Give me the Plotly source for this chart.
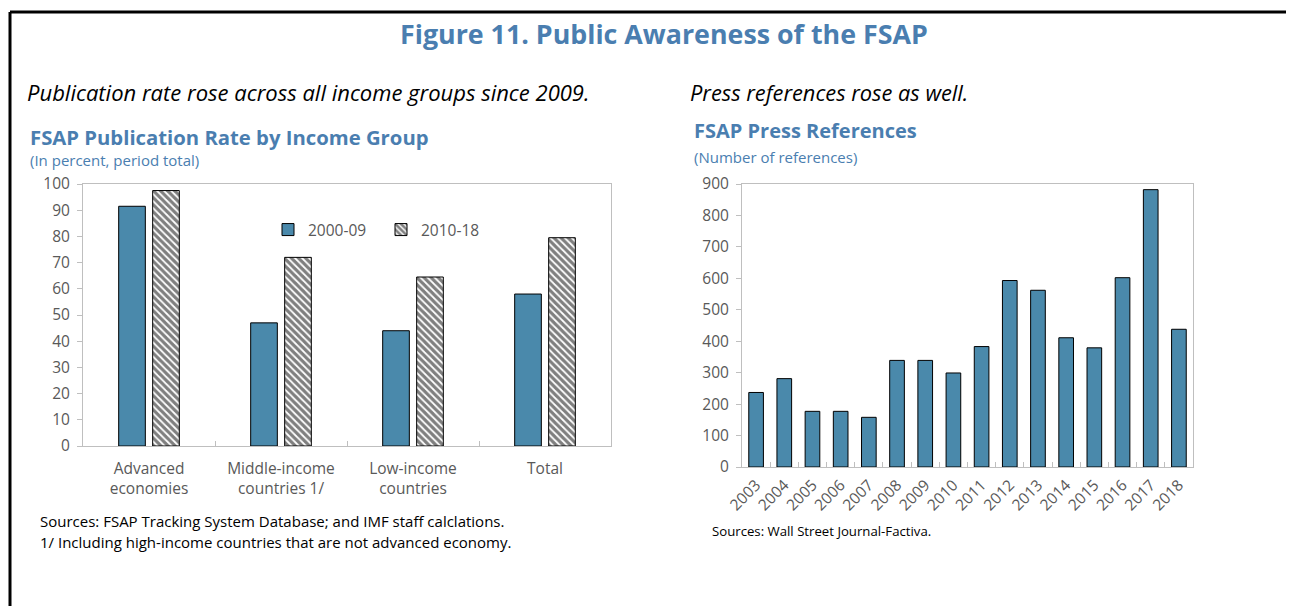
import plotly.graph_objects as go

# ---- data ----
groups = ["Advanced<br>economies", "Middle-income<br>countries 1/", "Low-income<br>countries", "Total"]
rate_2000_09 = [91.5, 47, 44, 58]
rate_2010_18 = [97.5, 72, 64.5, 79.5]

years = ["2003", "2004", "2005", "2006", "2007", "2008", "2009", "2010",
         "2011", "2012", "2013", "2014", "2015", "2016", "2017", "2018"]
press_refs = [237, 281, 177, 177, 158, 339, 339, 299,
              383, 593, 562, 411, 379, 602, 882, 438]

W, H = 1294, 606
OFF = 8  # page body margin offset
BLUE = "rgb(74,137,171)"
TBLUE = "rgb(74,126,176)"
GRAY = "#595959"
AXC = "#bfbfbf"
FONT = "Open Sans"
TICKSIZE = 15.5

def px(x):
    return (x - OFF) / W

def py(y):
    return 1 - (y - OFF) / H

fig = go.Figure()

fig.add_trace(go.Bar(
    x=groups, y=rate_2000_09, name="2000-09",
    marker=dict(color=BLUE, line=dict(color="black", width=1)),
    xaxis="x", yaxis="y",
))
fig.add_trace(go.Bar(
    x=groups, y=rate_2010_18, name="2010-18",
    marker=dict(color="white", line=dict(color="black", width=1),
                pattern=dict(shape="\\", fgcolor="black", bgcolor="white",
                             size=5, solidity=0.65)),
    xaxis="x", yaxis="y",
))
fig.add_trace(go.Bar(
    x=years, y=press_refs, name="Press references", showlegend=False,
    width=0.52,
    marker=dict(color=BLUE, line=dict(color="black", width=1)),
    xaxis="x2", yaxis="y2",
))

axis_common = dict(showline=True, linecolor=AXC, linewidth=1, mirror=True,
                   showgrid=False, zeroline=False, automargin=False,
                   tickfont=dict(family=FONT, size=TICKSIZE, color=GRAY))

fig.update_layout(
    width=W, height=H,
    margin=dict(l=0, r=0, t=0, b=0, pad=0, autoexpand=False),
    paper_bgcolor="white", plot_bgcolor="white",
    font=dict(family=FONT, color=GRAY),
    barmode="group", bargap=0.485, bargroupgap=0.216,
    xaxis=dict(domain=[px(83), px(611)], anchor="y",
               ticks="inside", tickson="boundaries", ticklen=5, tickcolor=AXC,
               ticklabelstandoff=8,
               **axis_common),
    yaxis=dict(domain=[py(446), py(184)], anchor="x", range=[0, 100], dtick=10,
               ticks="outside", ticklen=5, tickcolor=AXC, ticklabelstandoff=4,
               **axis_common),
    xaxis2=dict(domain=[px(742), px(1193)], anchor="y2", tickangle=-45,
                ticks="inside", tickson="boundaries", ticklen=5, tickcolor=AXC,
                ticklabelstandoff=2,
                **axis_common),
    yaxis2=dict(domain=[py(467), py(184)], anchor="x2", range=[0, 900], dtick=100,
                ticks="outside", ticklen=5, tickcolor=AXC, ticklabelstandoff=4,
                **axis_common),
    legend=dict(orientation="h", x=px(268), y=py(230), xanchor="left", yanchor="middle",
                font=dict(family=FONT, size=TICKSIZE, color=GRAY), bgcolor="rgba(0,0,0,0)",
                entrywidth=68, itemwidth=30),
    showlegend=True,
)

annotations = [
    dict(text="<b>Figure 11. Public Awareness of the FSAP</b>", x=px(664), y=py(33),
         xanchor="center", font=dict(size=26.8, color=TBLUE)),
    dict(text="<i>Publication rate rose across all income groups since 2009.</i>", x=px(25), y=py(92),
         xanchor="left", font=dict(size=22, color="black")),
    dict(text="<i>Press references rose as well.</i>", x=px(688), y=py(92),
         xanchor="left", font=dict(size=21.8, color="black")),
    dict(text="<b>FSAP Publication Rate by Income Group</b>", x=px(28), y=py(137),
         xanchor="left", font=dict(size=20.3, color=TBLUE)),
    dict(text="(In percent, period total)", x=px(28), y=py(160),
         xanchor="left", font=dict(size=15, color=TBLUE)),
    dict(text="<b>FSAP Press References</b>", x=px(692), y=py(131),
         xanchor="left", font=dict(size=20, color=TBLUE)),
    dict(text="(Number of references)", x=px(692), y=py(157),
         xanchor="left", font=dict(size=15, color=TBLUE)),
    dict(text="Sources: FSAP Tracking System Database; and IMF staff calclations.", x=px(38), y=py(521),
         xanchor="left", font=dict(size=15, color="black")),
    dict(text="1/ Including high-income countries that are not advanced economy.", x=px(38), y=py(542),
         xanchor="left", font=dict(size=15, color="black")),
    dict(text="Sources: Wall Street Journal-Factiva.", x=px(710), y=py(531),
         xanchor="left", font=dict(size=13.2, color="black")),
]
for a in annotations:
    a.update(xref="paper", yref="paper", yanchor="middle", showarrow=False)
    a["font"]["family"] = FONT
fig.update_layout(annotations=annotations)

fig.update_layout(shapes=[
    dict(type="line", xref="paper", yref="paper", x0=px(10), x1=px(10), y0=0, y1=py(12),
         line=dict(color="black", width=3)),
    dict(type="line", xref="paper", yref="paper", x0=px(10), x1=1, y0=py(12), y1=py(12),
         line=dict(color="black", width=3)),
])

fig.write_html("out.html")
